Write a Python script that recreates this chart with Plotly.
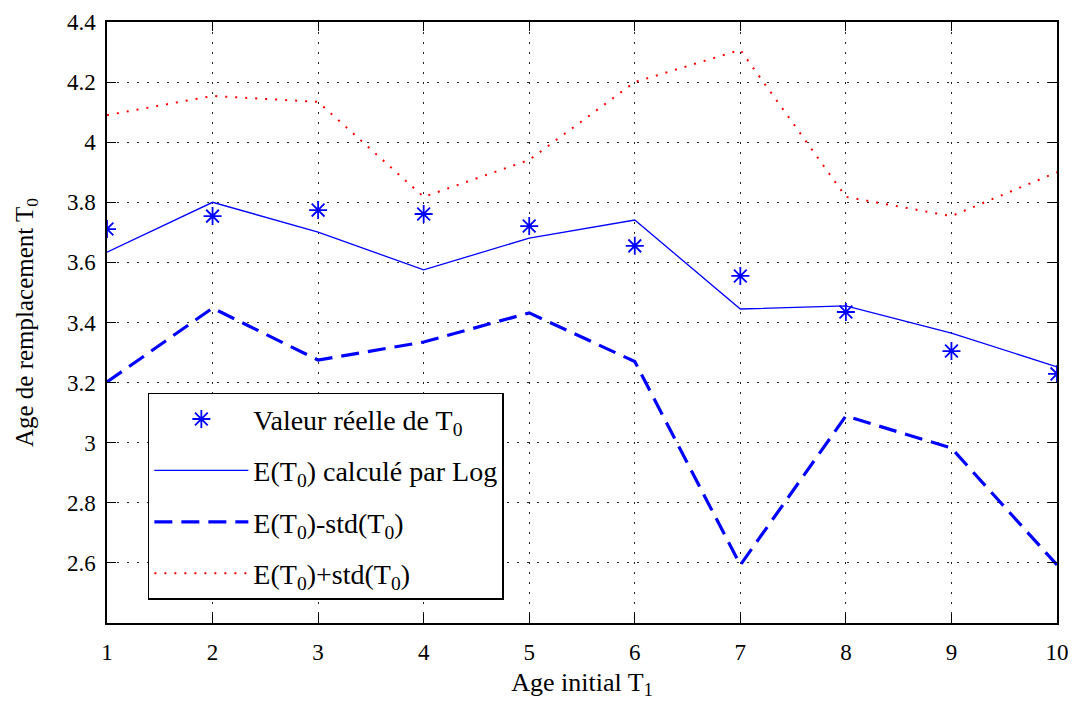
import plotly.graph_objects as go

x_vals = [1, 2, 3, 4, 5, 6, 7, 8, 9, 10]
reel = [3.711, 3.754, 3.774, 3.761, 3.721, 3.655, 3.555, 3.435, 3.305, 3.229]
esper = [3.634, 3.800, 3.701, 3.575, 3.681, 3.741, 3.445, 3.455, 3.365, 3.252]
moins_std = [3.202, 3.448, 3.275, 3.335, 3.432, 3.270, 2.593, 3.089, 2.982, 2.593]
plus_std = [4.090, 4.154, 4.134, 3.818, 3.941, 4.200, 4.307, 3.818, 3.754, 3.900]
y_ticks = [2.6, 2.8, 3.0, 3.2, 3.4, 3.6, 3.8, 4.0, 4.2, 4.4]
y_tick_text = ["2.6", "2.8", "3", "3.2", "3.4", "3.6", "3.8", "4", "4.2", "4.4"]

FONT = "Liberation Serif"
BLUE = "#0000ff"
RED = "#ff0000"

fig = go.Figure()
fig.add_trace(go.Scatter(
    x=x_vals, y=reel, mode="markers", name="Valeur réelle de T<sub>0</sub>",
    legendgroup="a",
    marker=dict(symbol="asterisk-open", size=15, color=BLUE,
                line=dict(color=BLUE, width=1.8)),
))
fig.add_trace(go.Scatter(
    x=x_vals, y=esper, mode="lines", name="E(T<sub>0</sub>) calculé par Log",
    legendgroup="b",
    line=dict(color=BLUE, width=1.3),
))
fig.add_trace(go.Scatter(
    x=x_vals, y=moins_std, mode="lines", name="E(T<sub>0</sub>)-std(T<sub>0</sub>)",
    legendgroup="c",
    line=dict(color=BLUE, width=3.2, dash="18px,9px"),
))
fig.add_trace(go.Scatter(
    x=x_vals, y=plus_std, mode="lines", name="E(T<sub>0</sub>)+std(T<sub>0</sub>)",
    legendgroup="d",
    line=dict(color=RED, width=2, dash="2px,8px"),
))

axis_common = dict(
    showline=True, linecolor="black", linewidth=1.5, mirror="ticks",
    ticks="inside", ticklen=9, tickwidth=1.3, tickcolor="black",
    showgrid=True, gridcolor="#222222", gridwidth=1.2, griddash="1.5px,8.5px",
    zeroline=False, automargin=False,
    tickfont=dict(family=FONT, size=23, color="black"),
)

fig.update_layout(
    width=1072, height=707,
    margin=dict(l=107, r=15, t=22, b=84, autoexpand=False),
    paper_bgcolor="white", plot_bgcolor="white",
    font=dict(family=FONT, color="black"),
    xaxis=dict(range=[1, 10], tickvals=x_vals, ticktext=[str(v) for v in x_vals],
               ticklabelstandoff=8,
               title=dict(text="Age initial T<sub>1</sub>", font=dict(family=FONT, size=26), standoff=8),
               **axis_common),
    yaxis=dict(range=[2.4, 4.4], tickvals=y_ticks, ticktext=y_tick_text,
               ticklabelstandoff=5,
               title=dict(text="Age de remplacement T<sub>0</sub>", font=dict(family=FONT, size=25), standoff=26),
               **axis_common),
    legend=dict(
        x=0.043, y=0.383, xanchor="left", yanchor="top",
        bgcolor="white", bordercolor="black", borderwidth=1.5,
        font=dict(family=FONT, size=28, color="black"),
        tracegroupgap=12, itemwidth=94,
    ),
    showlegend=True,
)

fig.write_html(
    "out.html",
    config={"displayModeBar": False},
    post_script="document.body.style.margin='0px';document.body.style.overflow='hidden';",
)
